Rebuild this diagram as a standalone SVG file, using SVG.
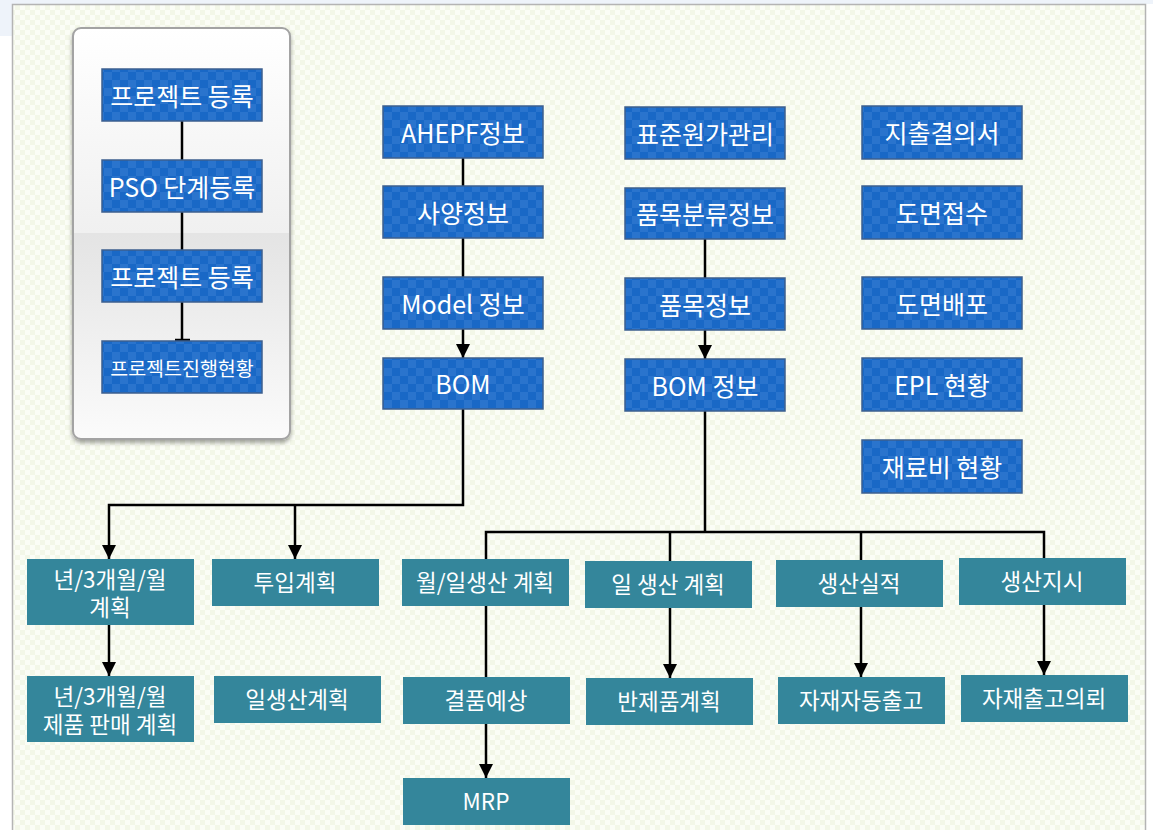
<svg xmlns="http://www.w3.org/2000/svg" width="1153" height="830" viewBox="0 0 1153 830">
<defs>
<pattern id="bg" width="10" height="10" patternUnits="userSpaceOnUse">
<rect width="10" height="10" fill="#fbfdf6"/>
<rect width="5" height="5" fill="#f3f7e8"/>
<rect x="5" y="5" width="5" height="5" fill="#f3f7e8"/>
</pattern>
<pattern id="chk" width="16" height="16" patternUnits="userSpaceOnUse">
<rect width="16" height="16" fill="#1968c6"/>
<rect width="8" height="8" fill="#2a74cd"/>
<rect x="8" y="8" width="8" height="8" fill="#2a74cd"/>
</pattern>
<linearGradient id="panel" x1="0" y1="0" x2="0" y2="1">
<stop offset="0" stop-color="#ffffff"/>
<stop offset="0.5" stop-color="#f0f0f0"/>
<stop offset="0.5" stop-color="#e4e4e4"/>
<stop offset="1" stop-color="#fbfbfb"/>
</linearGradient>
<filter id="sh" x="-10%" y="-10%" width="120%" height="120%">
<feGaussianBlur in="SourceAlpha" stdDeviation="2"/>
<feOffset dx="0" dy="3"/>
<feComponentTransfer><feFuncA type="linear" slope="0.35"/></feComponentTransfer>
<feMerge><feMergeNode/><feMergeNode in="SourceGraphic"/></feMerge>
</filter>
<marker id="arr" viewBox="0 0 14 14" refX="14" refY="7" markerWidth="14" markerHeight="14" orient="auto" markerUnits="userSpaceOnUse">
<path d="M0,0 L14,7 L0,14 z" fill="#000"/>
</marker>
<style>
.b rect{fill:url(#chk);stroke:#3d5f8f;stroke-width:1.5}
.t rect{fill:#34869b}
text{font-family:"Noto Sans CJK KR","Noto Sans",sans-serif;fill:#fff;text-anchor:middle;dominant-baseline:central}
.b text{font-size:25px}
.t text{font-size:22.5px}
.c path{fill:none;stroke:#000;stroke-width:2.5}
</style>
</defs>
<rect width="1153" height="830" fill="#fff"/>
<rect x="0" y="0" width="1153" height="4" fill="#eef3fa"/>
<rect x="0" y="0" width="12" height="36" fill="#eef3fa"/>
<rect x="12.5" y="4.5" width="1133" height="830" fill="url(#bg)" stroke="#b4b4b4" stroke-width="1.5"/>
<g id="panel-box">
<rect x="73" y="28" width="217" height="411" rx="8" fill="url(#panel)" stroke="#a3a3a3" stroke-width="2" filter="url(#sh)"/>
</g>
<g class="c" id="connectors">
<path d="M182,121 V160"/>
<path d="M182,212 V250"/>
<path d="M182,302 V340"/>
<path d="M175,340 H190" stroke-width="2"/>
<path d="M463,158 V186"/>
<path d="M463,238 V277"/>
<path d="M463,329 V358" marker-end="url(#arr)"/>
<path d="M705,239 V278"/>
<path d="M705,330 V359" marker-end="url(#arr)"/>
<path d="M463,409 V505 H109 V559" marker-end="url(#arr)"/>
<path d="M295,505 V559" marker-end="url(#arr)"/>
<path d="M109,625 V676" marker-end="url(#arr)"/>
<path d="M705,411 V532" stroke-width="3"/>
<path d="M486,559 V532 H1044 V558"/>
<path d="M670,532 V561"/>
<path d="M861,532 V560"/>
<path d="M486,606 V677"/>
<path d="M486,724 V778" marker-end="url(#arr)"/>
<path d="M670,608 V678" marker-end="url(#arr)"/>
<path d="M861,607 V677" marker-end="url(#arr)"/>
<path d="M1044,605 V675" marker-end="url(#arr)"/>
</g>
<g class="b" id="n-proj1"><rect x="102" y="69" width="160" height="52"/><text x="182" y="95">프로젝트 등록</text></g>
<g class="b" id="n-pso"><rect x="102" y="160" width="160" height="52"/><text x="182" y="186">PSO 단계등록</text></g>
<g class="b" id="n-proj2"><rect x="102" y="250" width="160" height="52"/><text x="182" y="276">프로젝트 등록</text></g>
<g class="b" id="n-projstat"><rect x="102" y="341" width="160" height="52"/><text x="182" y="367" style="font-size:19.5px">프로젝트진행현황</text></g>
<g class="b" id="n-ahepf"><rect x="383" y="106" width="160" height="52"/><text x="463" y="132">AHEPF정보</text></g>
<g class="b" id="n-spec"><rect x="383" y="186" width="160" height="52"/><text x="463" y="212">사양정보</text></g>
<g class="b" id="n-model"><rect x="383" y="277" width="160" height="52"/><text x="463" y="303">Model 정보</text></g>
<g class="b" id="n-bom"><rect x="383" y="358" width="160" height="51"/><text x="463" y="383">BOM</text></g>
<g class="b" id="n-stdcost"><rect x="625" y="107" width="160" height="52"/><text x="705" y="133">표준원가관리</text></g>
<g class="b" id="n-itemcls"><rect x="625" y="188" width="160" height="51"/><text x="705" y="213">품목분류정보</text></g>
<g class="b" id="n-item"><rect x="625" y="278" width="160" height="52"/><text x="705" y="304">품목정보</text></g>
<g class="b" id="n-bominfo"><rect x="625" y="359" width="160" height="52"/><text x="705" y="385">BOM 정보</text></g>
<g class="b" id="n-expense"><rect x="862" y="106" width="160" height="53"/><text x="942" y="132">지출결의서</text></g>
<g class="b" id="n-drwrecv"><rect x="862" y="186" width="160" height="53"/><text x="942" y="212">도면접수</text></g>
<g class="b" id="n-drwdist"><rect x="862" y="277" width="160" height="52"/><text x="942" y="303">도면배포</text></g>
<g class="b" id="n-epl"><rect x="862" y="358" width="160" height="53"/><text x="942" y="384">EPL 현황</text></g>
<g class="b" id="n-matcost"><rect x="862" y="440" width="160" height="53"/><text x="942" y="466">재료비 현황</text></g>
<g class="t" id="n-yearplan"><rect x="27" y="559" width="167" height="66"/><text x="110" y="578">년/3개월/월</text><text x="110" y="606">계획</text></g>
<g class="t" id="n-input"><rect x="212" y="559" width="167" height="47"/><text x="295" y="581">투입계획</text></g>
<g class="t" id="n-salesplan"><rect x="27" y="676" width="167" height="66"/><text x="110" y="695">년/3개월/월</text><text x="110" y="723">제품 판매 계획</text></g>
<g class="t" id="n-dailyprod"><rect x="214" y="676" width="167" height="47"/><text x="297" y="698">일생산계획</text></g>
<g class="t" id="n-mdplan"><rect x="402" y="559" width="167" height="47"/><text x="485" y="581">월/일생산 계획</text></g>
<g class="t" id="n-dplan"><rect x="585" y="561" width="167" height="47"/><text x="668" y="583">일 생산 계획</text></g>
<g class="t" id="n-shortage"><rect x="403" y="677" width="167" height="47"/><text x="486" y="699">결품예상</text></g>
<g class="t" id="n-semi"><rect x="586" y="678" width="167" height="47"/><text x="669" y="700">반제품계획</text></g>
<g class="t" id="n-mrp"><rect x="403" y="778" width="167" height="47"/><text x="486" y="800">MRP</text></g>
<g class="t" id="n-result"><rect x="776" y="560" width="167" height="47"/><text x="859" y="582">생산실적</text></g>
<g class="t" id="n-order"><rect x="959" y="558" width="167" height="47"/><text x="1042" y="580">생산지시</text></g>
<g class="t" id="n-autoout"><rect x="778" y="677" width="167" height="47"/><text x="861" y="699">자재자동출고</text></g>
<g class="t" id="n-outreq"><rect x="961" y="675" width="167" height="47"/><text x="1044" y="697">자재출고의뢰</text></g>
</svg>
